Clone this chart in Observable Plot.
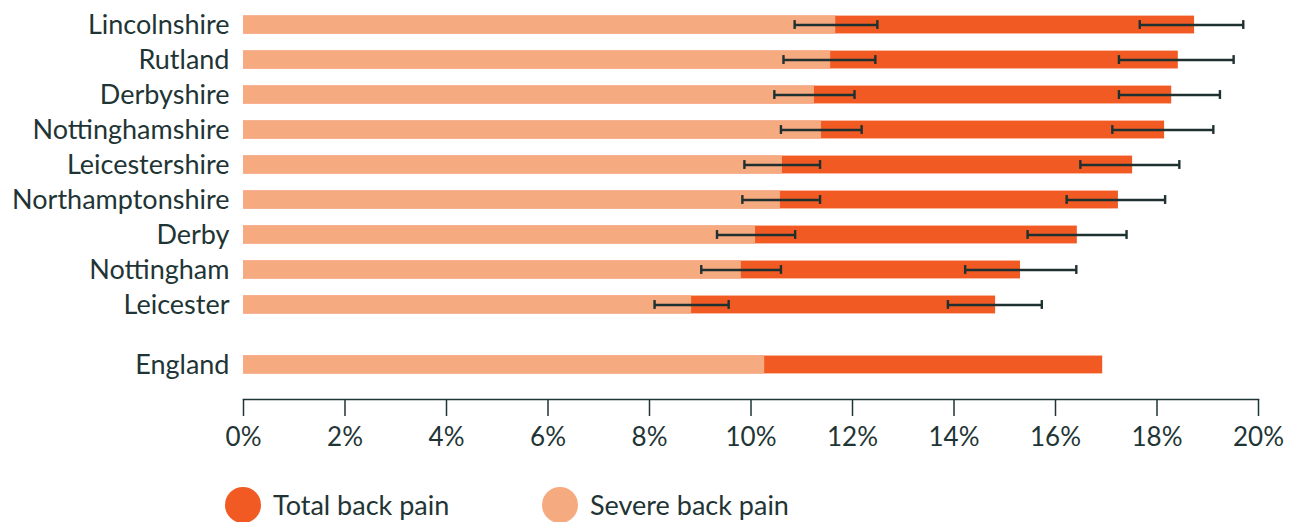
<!DOCTYPE html>
<html>
<head>
<meta charset="utf-8">
<script src="https://cdn.jsdelivr.net/npm/d3@7"></script>
<script src="https://cdn.jsdelivr.net/npm/@observablehq/plot@0.6"></script>
<style>
  body { margin: 0; background: #fff; font-family: Lato, sans-serif; color: #1f3535; }
  #chart svg [aria-label="x-axis tick"] { stroke-width: 1.5; }
  #chart svg [aria-label="frame"] { stroke-width: 1.5; }
  #legend { position: relative; height: 52px; }
  .item { position: absolute; top: 17px; display: flex; align-items: center; font-size: 27px; line-height: 36px; }
  .dot { width: 36px; height: 36px; border-radius: 50%; margin-right: 12px; }
</style>
</head>
<body>
<div id="chart"></div>
<div id="legend"></div>
<script>
// ---- data ----
const categories = ["Lincolnshire", "Rutland", "Derbyshire", "Nottinghamshire", "Leicestershire",
  "Northamptonshire", "Derby", "Nottingham", "Leicester", "England"];
const severe     = [11.67, 11.57, 11.25, 11.39, 10.62, 10.58, 10.09, 9.81, 8.83, 10.27];
const severeLow  = [10.86, 10.64, 10.46, 10.59, 9.87, 9.83, 9.33, 9.02, 8.10, null];
const severeHigh = [12.49, 12.45, 12.04, 12.18, 11.36, 11.36, 10.87, 10.59, 9.56, null];
const total      = [18.74, 18.42, 18.29, 18.15, 17.52, 17.24, 16.43, 15.31, 14.82, 16.93];
const totalLow   = [17.66, 17.25, 17.25, 17.12, 16.49, 16.22, 15.45, 14.22, 13.88, null];
const totalHigh  = [19.70, 19.51, 19.24, 19.11, 18.44, 18.16, 17.40, 16.41, 15.73, null];
const xTicks = [0, 2, 4, 6, 8, 10, 12, 14, 16, 18, 20];
const seriesNames = ["Total back pain", "Severe back pain"];

// ---- styles ----
const darkOrange = "#f15a22";
const lightOrange = "#f6aa80";
const errColor = "#1f3030";
const textColor = "#1f3535";

const rows = categories.map((c, i) => ({
  area: c, severe: severe[i], sLo: severeLow[i], sHi: severeHigh[i],
  total: total[i], tLo: totalLow[i], tHi: totalHigh[i]
}));
const national = "England";
const regionRows = rows.filter(d => d.area !== national);
const nationalRows = rows.filter(d => d.area === national);
const regionNames = regionRows.map(d => d.area);
const spacer = " ";
const yDomain = [...regionNames, spacer, national];
const shift = -10;

const chart = Plot.plot({
  width: 1292,
  height: 470,
  marginLeft: 243,
  marginRight: 34,
  marginTop: 0,
  marginBottom: 71,
  style: { fontFamily: "Lato, sans-serif", fontSize: "26px", color: textColor, background: "transparent" },
  x: {
    domain: [0, 20], ticks: xTicks, tickFormat: d => d + "%",
    tickSize: 17, tickPadding: 11, line: true, label: null
  },
  y: { domain: yDomain, paddingInner: 0.49, paddingOuter: 0.446, round: false, label: null },
  marks: [
    Plot.barX(regionRows, { x: "total", y: "area", fill: darkOrange }),
    Plot.barX(nationalRows, { x: "total", y: "area", fill: darkOrange, dy: shift }),
    Plot.barX(regionRows, { x: "severe", y: "area", fill: lightOrange }),
    Plot.barX(nationalRows, { x: "severe", y: "area", fill: lightOrange, dy: shift }),
    // error bars: severe
    Plot.ruleY(regionRows, { y: "area", x1: "sLo", x2: "sHi", stroke: errColor, strokeWidth: 2.4 }),
    Plot.tickX(regionRows, { x: "sLo", y: "area", insetTop: 4.5, insetBottom: 4.5, stroke: errColor, strokeWidth: 2.4 }),
    Plot.tickX(regionRows, { x: "sHi", y: "area", insetTop: 4.5, insetBottom: 4.5, stroke: errColor, strokeWidth: 2.4 }),
    // error bars: total
    Plot.ruleY(regionRows, { y: "area", x1: "tLo", x2: "tHi", stroke: errColor, strokeWidth: 2.4 }),
    Plot.tickX(regionRows, { x: "tLo", y: "area", insetTop: 4.5, insetBottom: 4.5, stroke: errColor, strokeWidth: 2.4 }),
    Plot.tickX(regionRows, { x: "tHi", y: "area", insetTop: 4.5, insetBottom: 4.5, stroke: errColor, strokeWidth: 2.4 }),
    Plot.axisY({ ticks: regionNames, tickSize: 0, tickPadding: 14, fontSize: 27, label: null }),
    Plot.axisY({ ticks: [national], tickSize: 0, tickPadding: 14, fontSize: 27, dy: shift, label: null })
  ]
});
document.getElementById("chart").appendChild(chart);

// ---- legend ----
const legend = document.getElementById("legend");
const legendColors = [darkOrange, lightOrange];
const legendLeft = [225, 542];
seriesNames.forEach((name, i) => {
  const item = document.createElement("div");
  item.className = "item";
  item.style.left = legendLeft[i] + "px";
  const dot = document.createElement("span");
  dot.className = "dot";
  dot.style.background = legendColors[i];
  const label = document.createElement("span");
  label.textContent = name;
  item.appendChild(dot);
  item.appendChild(label);
  legend.appendChild(item);
});
</script>
</body>
</html>
